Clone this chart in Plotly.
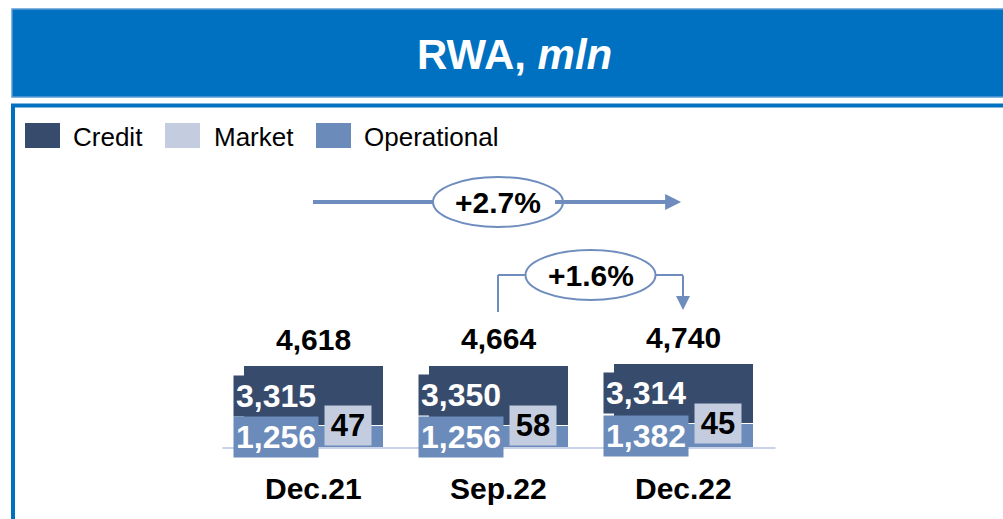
import plotly.graph_objects as go

# ---------------- data ----------------
categories = ["Dec.21", "Sep.22", "Dec.22"]
credit = [3315, 3350, 3314]
market = [47, 58, 45]
operational = [1256, 1256, 1382]
totals = [4618, 4664, 4740]
series_names = ["Credit", "Market", "Operational"]
growth_labels = ["+2.7%", "+1.6%"]
title_main = "RWA,"
title_unit = "mln"

# ---------------- style ----------------
W, H = 1003, 519
OFF = 0  # page body margin removed via post_script
FONT = "Liberation Sans, Arial, sans-serif"
C_CREDIT = "#374B6D"
C_MARKET = "#C4CDE0"
C_OPER = "#6B8BBA"
C_ARROW = "#6E8DBE"
C_BASE = "#C8D2E8"
C_BLUE = "#0070C0"
colors = {"Credit": C_CREDIT, "Market": C_MARKET, "Operational": C_OPER}

PX_PER_UNIT = 0.018
BASE_PX = 448 - OFF
X0_PX, STEP_PX = 313 - OFF, 185
BAR_W = 140 / STEP_PX

def pyp(p):
    return 1 - (p - OFF) / H

def pxp(p):
    return (p - OFF) / W

xr = [-X0_PX / STEP_PX, (W - X0_PX) / STEP_PX]
yr = [-(H - BASE_PX) / PX_PER_UNIT, BASE_PX / PX_PER_UNIT]
xs = list(range(len(categories)))

fig = go.Figure()
for name, vals in [("Operational", operational), ("Credit", credit), ("Market", market)]:
    fig.add_trace(go.Bar(
        x=xs, y=vals, name=name, width=BAR_W,
        marker=dict(color=colors[name], line=dict(color="white", width=1)),
        showlegend=False, hoverinfo="skip",
    ))

shapes = []
annotations = []

# title banner
shapes.append(dict(type="rect", xref="paper", yref="paper",
                   x0=pxp(12), x1=pxp(1020), y0=pyp(97), y1=pyp(9),
                   fillcolor=C_BLUE, line=dict(color="#5B9BD5", width=1.5), layer="below"))
annotations.append(dict(xref="paper", yref="paper", x=pxp(514), y=pyp(55),
                        text=f"<b>{title_main} <i>{title_unit}</i></b>", showarrow=False,
                        font=dict(family=FONT, size=42, color="white"),
                        xanchor="center", yanchor="middle"))
# content frame
shapes.append(dict(type="rect", xref="paper", yref="paper",
                   x0=pxp(13), x1=pxp(1025), y0=pyp(545), y1=pyp(105.5),
                   fillcolor="rgba(0,0,0,0)", line=dict(color=C_BLUE, width=4), layer="below"))

# legend
leg_sw = [25, 165, 316]
leg_tx = [71, 212, 362]
for name, sx, tx in zip(series_names, leg_sw, leg_tx):
    shapes.append(dict(type="rect", xref="paper", yref="paper",
                       x0=pxp(sx), x1=pxp(sx + 35), y0=pyp(148), y1=pyp(123),
                       fillcolor=colors[name], line=dict(width=0)))
    annotations.append(dict(xref="paper", yref="paper", x=pxp(tx), y=pyp(137),
                            text=name, showarrow=False, xanchor="left", yanchor="middle",
                            font=dict(family=FONT, size=26, color="black")))

# baseline
shapes.append(dict(type="line", xref="x", yref="y", x0=-0.49, x1=2.5, y0=0, y1=0,
                   line=dict(color=C_BASE, width=2)))

# bar labels
for i in xs:
    left = i - BAR_W / 2
    right = i + BAR_W / 2
    annotations.append(dict(x=left, y=operational[i] + credit[i] / 2, xref="x", yref="y",
                            text=f"<b>{credit[i]:,}</b>", showarrow=False,
                            xanchor="left", yanchor="middle", xshift=-10,
                            bgcolor=C_CREDIT, borderpad=2,
                            font=dict(family=FONT, size=32, color="white")))
    annotations.append(dict(x=left, y=operational[i] / 2, xref="x", yref="y",
                            text=f"<b>{operational[i]:,}</b>", showarrow=False,
                            xanchor="left", yanchor="middle", xshift=-10,
                            bgcolor=C_OPER, borderpad=2,
                            font=dict(family=FONT, size=32, color="white")))
    annotations.append(dict(x=right, y=operational[i], xref="x", yref="y",
                            text=f"<b>{market[i]:,}</b>", showarrow=False,
                            xanchor="right", yanchor="middle", xshift=-11,
                            bgcolor=C_MARKET, borderpad=2, width=42,
                            font=dict(family=FONT, size=31, color="black")))
    annotations.append(dict(x=i, y=totals[i], xref="x", yref="y",
                            text=f"<b>{totals[i]:,}</b>", showarrow=False,
                            xanchor="center", yanchor="bottom", yshift=7,
                            font=dict(family=FONT, size=30, color="black")))
    annotations.append(dict(x=i, y=0, xref="x", yref="y",
                            text=f"<b>{categories[i]}</b>", showarrow=False,
                            xanchor="center", yanchor="top", yshift=-22,
                            font=dict(family=FONT, size=30, color="black")))

# growth arrow 1: first -> last
yA = pyp(202)
shapes.append(dict(type="line", xref="x", yref="paper", x0=0, x1=1, y0=yA, y1=yA,
                   line=dict(color=C_ARROW, width=4)))
annotations.append(dict(x=1.99, y=yA, xref="x", yref="paper",
                        ax=1.3, ay=0, axref="x", ayref="pixel",
                        text="", showarrow=True, arrowhead=2, arrowsize=0.8,
                        arrowwidth=4, arrowcolor=C_ARROW, standoff=0))
shapes.append(dict(type="circle", xref="x", yref="paper", xsizemode="pixel", ysizemode="pixel",
                   xanchor=1, x0=-65, x1=65, yanchor=yA, y0=-25, y1=25,
                   fillcolor="white", line=dict(color=C_ARROW, width=2)))
annotations.append(dict(x=1, y=yA, xref="x", yref="paper", text=f"<b>{growth_labels[0]}</b>",
                        showarrow=False, xanchor="center", yanchor="middle",
                        font=dict(family=FONT, size=30, color="black")))

# growth arrow 2: middle -> last
yB = pyp(275)
shapes.append(dict(type="line", xref="x", yref="paper", x0=1, x1=1, y0=pyp(312), y1=yB,
                   line=dict(color=C_ARROW, width=2)))
shapes.append(dict(type="line", xref="x", yref="paper", x0=1, x1=2, y0=yB, y1=yB,
                   line=dict(color=C_ARROW, width=2)))
annotations.append(dict(x=2, y=pyp(310), xref="x", yref="paper",
                        ax=0, ay=-36, axref="pixel", ayref="pixel",
                        text="", showarrow=True, arrowhead=2, arrowsize=1.4,
                        arrowwidth=2, arrowcolor=C_ARROW, standoff=0))
shapes.append(dict(type="circle", xref="x", yref="paper", xsizemode="pixel", ysizemode="pixel",
                   xanchor=1.5, x0=-65, x1=65, yanchor=yB, y0=-25, y1=25,
                   fillcolor="white", line=dict(color=C_ARROW, width=2)))
annotations.append(dict(x=1.5, y=yB, xref="x", yref="paper", text=f"<b>{growth_labels[1]}</b>",
                        showarrow=False, xanchor="center", yanchor="middle",
                        font=dict(family=FONT, size=30, color="black")))

fig.update_layout(
    width=W, height=H, margin=dict(l=0, r=0, t=0, b=0),
    paper_bgcolor="white", plot_bgcolor="rgba(0,0,0,0)",
    barmode="stack", showlegend=False,
    xaxis=dict(range=xr, visible=False, fixedrange=True),
    yaxis=dict(range=yr, visible=False, fixedrange=True),
    shapes=shapes, annotations=annotations,
    font=dict(family=FONT),
)

fig.write_html("out.html",
               config={"displayModeBar": False, "staticPlot": True},
               post_script="document.body.style.margin='0';document.body.style.overflow='hidden';")
